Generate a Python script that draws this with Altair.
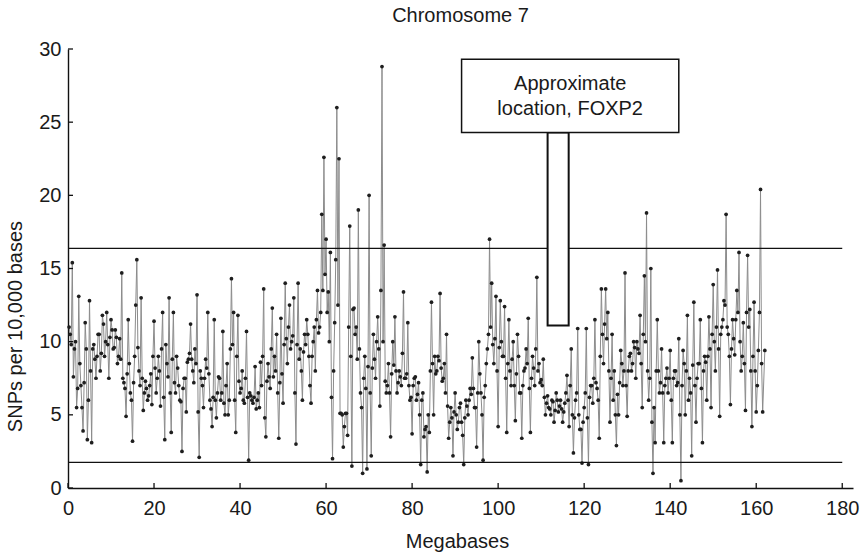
import altair as alt
import pandas as pd

# SNPs per 10,000 bases along chromosome 7.
# Main readings every 0.5 Mb (0.5, 1.0, ...)
snp_000_010 = [10.5, 15.4, 9.5, 5.5, 13.1, 7.0, 3.9, 11.3, 3.3, 12.8,
               3.1, 9.8, 7.5, 10.5, 8.0, 11.8, 9.0, 12.0, 7.5, 11.5]
snp_010_020 = [9.5, 10.8, 8.5, 10.2, 14.7, 7.2, 4.9, 11.5, 6.5, 3.2,
               9.0, 15.6, 8.0, 13.0, 5.3, 7.3, 6.0, 7.0, 5.7, 11.4]
snp_020_030 = [6.5, 9.0, 5.6, 12.0, 3.3, 8.5, 13.0, 3.8, 12.0, 6.5,
               8.2, 6.0, 2.5, 7.5, 5.2, 8.8, 11.2, 8.0, 9.5, 13.2]
snp_030_040 = [2.1, 7.5, 5.5, 8.8, 12.0, 6.0, 4.2, 11.5, 4.8, 7.6,
               6.0, 10.7, 5.0, 8.5, 6.0, 14.3, 12.0, 3.8, 11.8, 6.5]
snp_040_050 = [8.0, 5.8, 10.7, 1.9, 6.3, 5.8, 8.3, 6.0, 5.5, 7.0,
               13.6, 3.5, 8.5, 6.8, 12.3, 9.0, 10.5, 3.4, 11.6, 5.8]
snp_050_060 = [14.0, 8.5, 12.5, 10.0, 13.0, 3.0, 14.0, 9.5, 6.0, 10.5,
               11.5, 9.0, 5.8, 10.0, 8.0, 13.5, 11.0, 18.7, 22.6, 17.0]
snp_060_070 = [13.4, 16.1, 2.0, 11.3, 26.0, 22.5, 5.1, 2.8, 5.1, 3.6,
               17.9, 1.5, 12.3, 11.0, 19.0, 6.5, 1.0, 9.0, 1.3, 20.0]
snp_070_080 = [2.2, 10.5, 7.5, 11.7, 5.6, 28.8, 16.6, 6.5, 8.5, 3.5,
               10.0, 11.7, 6.5, 8.0, 7.0, 13.4, 7.5, 11.3, 6.0, 3.7]
snp_080_090 = [7.5, 6.0, 7.2, 1.6, 6.5, 4.0, 1.1, 3.8, 12.7, 5.0,
               7.8, 9.0, 13.3, 7.3, 8.5, 10.5, 3.4, 5.5, 2.2, 6.5]
snp_090_100 = [4.0, 5.5, 4.5, 1.6, 6.0, 5.0, 6.8, 8.9, 5.5, 2.8,
               10.0, 6.5, 1.9, 7.0, 9.5, 17.0, 14.0, 8.5, 13.1, 4.2]
snp_100_110 = [12.8, 9.0, 12.4, 3.8, 11.5, 7.0, 10.0, 4.6, 10.5, 6.5,
               3.4, 8.0, 9.5, 11.6, 3.8, 9.0, 7.0, 14.4, 8.5, 7.4]
snp_110_120 = [8.8, 5.0, 6.3, 5.4, 6.0, 4.5, 6.5, 5.2, 6.0, 4.5,
               5.8, 7.7, 4.2, 9.5, 2.4, 6.0, 10.9, 4.0, 1.7, 5.5]
snp_120_130 = [10.9, 1.6, 7.0, 5.8, 11.5, 6.8, 3.4, 13.6, 8.5, 13.6,
               12.0, 4.5, 10.5, 8.0, 2.9, 5.0, 9.4, 7.0, 14.7, 4.9]
snp_130_140 = [9.0, 8.0, 10.0, 7.5, 9.5, 11.8, 5.5, 14.5, 18.8, 6.0,
               15.0, 1.0, 3.1, 11.5, 6.5, 9.5, 3.1, 7.5, 6.5, 9.4]
snp_140_150 = [3.1, 8.0, 7.0, 10.2, 0.5, 9.4, 5.0, 11.8, 7.5, 2.2,
               12.7, 4.5, 8.5, 11.5, 3.1, 9.0, 6.0, 11.7, 5.5, 13.9]
snp_150_160 = [8.0, 14.9, 4.9, 11.0, 12.8, 18.7, 10.5, 5.7, 11.5, 9.1,
               13.5, 16.1, 8.0, 11.3, 5.3, 15.9, 12.2, 4.2, 12.7, 5.2]
snp_160_162 = [9.4, 20.4, 5.2, 9.4]

# In-between readings (0.25, 0.75, ...)
mid_000_010 = [11.0, 9.8, 7.6, 10.0, 6.8, 8.5, 5.5, 7.2, 9.5, 6.0,
               8.0, 9.5, 8.8, 9.0, 10.5, 9.2, 11.2, 10.0, 9.8, 10.3]
mid_010_020 = [10.8, 9.6, 10.3, 9.0, 8.8, 7.5, 6.8, 7.8, 8.5, 6.0,
               7.2, 12.5, 9.6, 7.0, 7.5, 6.5, 6.8, 6.3, 7.8, 9.0]
mid_020_030 = [8.2, 7.5, 8.0, 9.5, 6.2, 9.8, 7.6, 6.5, 8.8, 7.2,
               9.0, 7.0, 5.9, 6.8, 7.5, 8.6, 9.2, 8.8, 7.2, 8.5]
mid_030_040 = [5.2, 8.0, 7.0, 7.5, 8.2, 7.8, 5.4, 6.2, 6.0, 6.5,
               7.5, 6.5, 5.8, 7.0, 5.0, 9.5, 9.8, 6.0, 9.0, 7.3]
mid_040_050 = [6.8, 6.0, 7.5, 6.2, 6.5, 6.0, 6.2, 5.4, 6.5, 8.6,
               9.0, 4.8, 7.3, 7.6, 9.5, 7.6, 8.0, 6.5, 7.2, 7.8]
mid_050_060 = [9.8, 10.2, 11.0, 9.5, 10.4, 6.5, 9.8, 8.8, 8.0, 9.3,
               9.8, 10.5, 7.0, 9.0, 11.0, 11.5, 10.6, 12.0, 13.5, 14.6]
mid_060_070 = [12.0, 10.0, 6.2, 8.0, 15.6, 12.5, 5.1, 5.0, 4.2, 5.1,
               11.0, 9.0, 12.2, 10.5, 8.8, 9.5, 5.5, 7.5, 6.8, 8.3]
mid_070_080 = [6.5, 8.2, 8.8, 10.0, 9.5, 13.5, 10.0, 7.3, 7.0, 6.5,
               7.8, 8.4, 8.0, 7.2, 7.6, 9.2, 7.5, 7.8, 7.0, 6.2]
mid_080_090 = [7.0, 7.6, 6.4, 5.0, 6.0, 3.5, 4.2, 5.0, 8.0, 8.5,
               9.0, 8.0, 8.7, 8.2, 7.5, 6.5, 5.6, 4.5, 4.8, 5.2]
mid_090_100 = [5.0, 4.5, 5.8, 3.6, 4.8, 5.6, 6.0, 6.4, 6.8, 5.5,
               6.5, 7.8, 5.0, 6.2, 8.5, 10.5, 11.0, 9.8, 10.2, 8.0]
mid_100_110 = [9.6, 10.0, 9.0, 7.5, 8.5, 8.0, 8.8, 7.0, 7.8, 9.0,
               6.5, 7.0, 8.2, 8.5, 6.8, 7.5, 8.2, 9.5, 8.0, 7.2]
mid_110_120 = [7.0, 6.2, 5.8, 5.5, 5.0, 5.9, 5.3, 6.0, 5.6, 5.4,
               5.2, 6.5, 6.0, 7.0, 5.0, 4.8, 6.5, 5.0, 4.0, 4.5]
mid_120_130 = [6.5, 4.8, 6.2, 7.0, 7.5, 7.2, 6.0, 9.0, 10.5, 11.2,
               10.2, 8.0, 7.5, 6.0, 5.0, 6.4, 7.2, 8.5, 8.0, 7.0]
mid_130_140 = [8.0, 9.2, 8.5, 9.6, 10.0, 9.2, 8.5, 10.5, 10.0, 8.0,
               7.5, 4.5, 5.5, 8.0, 8.0, 7.2, 6.5, 7.0, 8.2, 7.5]
mid_140_150 = [6.0, 7.5, 8.0, 7.2, 5.0, 7.0, 8.5, 8.0, 6.0, 6.5,
               8.4, 7.0, 7.5, 8.5, 6.8, 8.0, 8.6, 9.0, 9.5, 10.5]
mid_150_160 = [10.0, 11.0, 9.5, 10.5, 11.5, 12.5, 11.0, 9.0, 9.5, 10.2,
               11.5, 12.0, 10.0, 9.0, 8.5, 12.0, 11.0, 8.0, 9.0, 8.0]
mid_160_162 = [7.0, 12.0, 8.5]

main_blocks = [snp_000_010, snp_010_020, snp_020_030, snp_030_040, snp_040_050,
               snp_050_060, snp_060_070, snp_070_080, snp_080_090, snp_090_100,
               snp_100_110, snp_110_120, snp_120_130, snp_130_140, snp_140_150,
               snp_150_160, snp_160_162]
mid_blocks = [mid_000_010, mid_010_020, mid_020_030, mid_030_040, mid_040_050,
              mid_050_060, mid_060_070, mid_070_080, mid_080_090, mid_090_100,
              mid_100_110, mid_110_120, mid_120_130, mid_130_140, mid_140_150,
              mid_150_160, mid_160_162]
main_vals = [v for b in main_blocks for v in b]
mid_vals = [v for b in mid_blocks for v in b]
main_mb = [0.5 * (i + 1) for i in range(len(main_vals))]
mid_mb = [0.25 + 0.5 * i for i in range(len(mid_vals))]

threshold_levels = [16.38, 1.75]
x_tick_values = [0, 20, 40, 60, 80, 100, 120, 140, 160, 180]
y_tick_values = [0, 5, 10, 15, 20, 25, 30]

# FOXP2 call-out (data coordinates)
box_x, box_x2, box_y, box_y2 = [91.5], [142.0], [24.3], [29.3]
stem_x, stem_x2, stem_y, stem_y2 = [111.5], [116.4], [11.1], [24.3]
note_lines = ["Approximate", "location, FOXP2"]
note_y = [27.2, 25.5]
note_x = [116.75, 116.75]

FONT = "Liberation Sans"

df = pd.DataFrame({"mb": main_mb + mid_mb, "snp": main_vals + mid_vals}).sort_values("mb")
thr = pd.DataFrame({"level": threshold_levels, "x0": [0, 0], "x1": [180, 180]})
xt = pd.DataFrame({"t": x_tick_values})
yt = pd.DataFrame({"t": y_tick_values})
box = pd.DataFrame({"x": box_x, "x2": box_x2, "y": box_y, "y2": box_y2})
stem = pd.DataFrame({"x": stem_x, "x2": stem_x2, "y": stem_y, "y2": stem_y2})
note = pd.DataFrame({"x": note_x, "y": note_y, "text": note_lines})

xscale = alt.Scale(domain=[0, 182.5], nice=False, zero=False)
yscale = alt.Scale(domain=[0, 30], nice=False)

xaxis = alt.Axis(values=x_tick_values, ticks=False, tickSize=0, grid=False,
                 labelFlush=False, labelPadding=26, labelBaseline="alphabetic",
                 labelFont=FONT, labelFontSize=20, labelColor="#1a1a1a",
                 domainColor="#111111", domainWidth=1.4,
                 title="Megabases", titleFont=FONT, titleFontSize=20,
                 titleFontWeight="normal", titleColor="#1a1a1a",
                 titleX=389, titleY=59, titleBaseline="alphabetic", titleAlign="center")
yaxis = alt.Axis(values=y_tick_values, ticks=False, tickSize=0, grid=False,
                 labelPadding=7, labelFont=FONT, labelFontSize=20, labelColor="#1a1a1a",
                 domainColor="#111111", domainWidth=1.4,
                 title="SNPs per 10,000 bases", titleFont=FONT, titleFontSize=20,
                 titleFontWeight="normal", titleColor="#1a1a1a",
                 titleX=-47, titleY=277, titleAngle=270, titleBaseline="alphabetic",
                 titleAlign="center")

base = alt.Chart(df)
line = base.mark_line(color="#8c8c8c", strokeWidth=1).encode(
    x=alt.X("mb:Q", scale=xscale, axis=xaxis),
    y=alt.Y("snp:Q", scale=yscale, axis=yaxis),
    order="mb:Q",
)
pts = base.mark_circle(color="#1e1e1e", size=14, opacity=1).encode(
    x=alt.X("mb:Q", scale=xscale), y=alt.Y("snp:Q", scale=yscale)
)
hlines = alt.Chart(thr).mark_rule(color="#111111", strokeWidth=1.3).encode(
    x=alt.X("x0:Q", scale=xscale), x2="x1:Q", y=alt.Y("level:Q", scale=yscale)
)
xticks = alt.Chart(xt).mark_rule(color="#111111", strokeWidth=1.3).encode(
    x=alt.X("t:Q", scale=xscale), y=alt.value(439), y2=alt.value(434)
)
yticks = alt.Chart(yt).mark_rule(color="#111111", strokeWidth=1.3).encode(
    y=alt.Y("t:Q", scale=yscale), x=alt.value(0), x2=alt.value(5)
)
stem_mark = alt.Chart(stem).mark_rect(fill="white", stroke="#111111", strokeWidth=2).encode(
    x=alt.X("x:Q", scale=xscale), x2="x2:Q", y=alt.Y("y:Q", scale=yscale), y2="y2:Q"
)
box_mark = alt.Chart(box).mark_rect(fill="white", stroke="#111111", strokeWidth=1.5).encode(
    x=alt.X("x:Q", scale=xscale), x2="x2:Q", y=alt.Y("y:Q", scale=yscale), y2="y2:Q"
)
note_mark = alt.Chart(note).mark_text(font=FONT, fontSize=20, color="#1a1a1a",
                                      align="center", baseline="alphabetic").encode(
    x=alt.X("x:Q", scale=xscale), y=alt.Y("y:Q", scale=yscale), text="text:N"
)

chart = alt.layer(line, pts, hlines, xticks, yticks, stem_mark, box_mark, note_mark).properties(
    width=785, height=439,
    title=alt.TitleParams("Chromosome 7", font=FONT, fontSize=20, fontWeight="normal",
                          color="#1a1a1a", anchor="middle", offset=13),
    autosize=alt.AutoSizeParams(type="none"),
    padding={"left": 68, "top": 49, "right": 7, "bottom": 66},
).configure_view(stroke=None)

chart.save("out.html", embed_options={"renderer": "svg", "actions": False})
